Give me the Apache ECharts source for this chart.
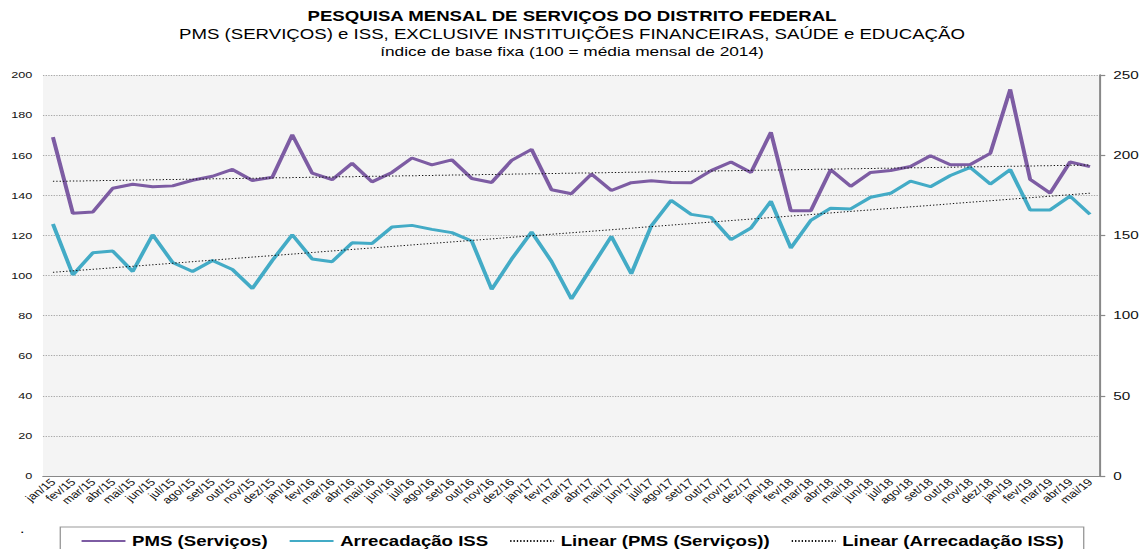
<!DOCTYPE html>
<html><head><meta charset="utf-8">
<script src="https://cdn.jsdelivr.net/npm/echarts@6/dist/echarts.min.js"></script>
<style>
html,body{margin:0;padding:0;background:#fff;overflow:hidden;width:1144px;height:549px}
#wrap{width:1144px;height:549px;overflow:hidden;position:relative}
#c{width:860px;height:549px;transform:scaleX(1.33023);transform-origin:0 0;}
</style></head><body><div id="wrap"><div id="c"></div></div>
<script>
// ---- data ----
const months = ['jan','fev','mar','abr','mai','jun','jul','ago','set','out','nov','dez'];
const years = ['15','16','17','18','19'];
const categories = [];
years.forEach(y => months.forEach(m => categories.push(m + '/' + y)));
categories.length = 53; // jan/15 .. mai/19

const pmsValues = [169, 131, 131.7, 143.5, 145.5, 144.3, 144.7, 147.5, 149.5, 152.9, 147.4, 149,
  170.2, 151, 147.8, 156, 146.7, 151.4, 158.6, 155.2, 157.7, 148.4, 146.4, 157.4,
  162.9, 142.8, 140.8, 150.6, 142.4, 146.3, 147.3, 146.4, 146.3, 152.3, 156.6, 151.4,
  171.4, 132.3, 132.3, 152.8, 144.5, 151.4, 152.4, 154.4, 159.7, 155.2, 155.4, 160.9,
  192.8, 147.9, 141.1, 156.6, 154.3];
const issValues = [125.7, 100.3, 111.3, 112.2, 102, 120.3, 106.5, 102, 107.5, 103, 93.5, 107.5,
  120.3, 108.2, 106.9, 116.3, 115.9, 124.2, 125, 123, 121.4, 117.2, 93.1, 108.2,
  121.7, 107, 88.3, 104, 119.5, 100.9, 124.7, 137.5, 130.5, 129, 117.9, 123.7,
  137, 113.7, 127.5, 133.6, 133.2, 139, 141, 147.1, 144.3, 149.9, 153.9, 145.6,
  152.8, 132.7, 132.7, 139.6, 130.5];

const seriesNames = ['PMS (Serviços)', 'Arrecadação ISS', 'Linear (PMS (Serviços))', 'Linear (Arrecadação ISS)'];
const titleLines = ['PESQUISA MENSAL DE SERVIÇOS DO DISTRITO FEDERAL',
  'PMS (SERVIÇOS) e ISS, EXCLUSIVE INSTITUIÇÕES FINANCEIRAS, SAÚDE e EDUCAÇÃO',
  'índice de base fixa (100 = média mensal de 2014)'];

// least-squares linear trend (as the spreadsheet's "Linear" trendline)
function linearTrend(arr) {
  const n = arr.length;
  let sx = 0, sy = 0, sxx = 0, sxy = 0;
  arr.forEach((v, i) => { sx += i; sy += v; sxx += i * i; sxy += i * v; });
  const b = (n * sxy - sx * sy) / (n * sxx - sx * sx);
  const a = (sy - b * sx) / n;
  return arr.map((_, i) => +(a + b * i).toFixed(3));
}

const FONT = '"Liberation Sans", Arial, sans-serif';
const chart = echarts.init(document.getElementById('c'), null, {renderer: 'svg'});
chart.setOption({
  animation: false,
  backgroundColor: '#ffffff',
  title: [
    {text: titleLines[0], left: 'center', top: 9, padding: 0,
     textStyle: {fontSize: 14, fontWeight: 'bold', color: '#000', fontFamily: FONT}},
    {text: titleLines[1], left: 'center', top: 27, padding: 0,
     textStyle: {fontSize: 14, fontWeight: 'normal', color: '#000', fontFamily: FONT}},
    {text: titleLines[2], left: 'center', top: 45, padding: 0,
     textStyle: {fontSize: 13, fontWeight: 'normal', color: '#000', fontFamily: FONT}}
  ],
  graphic: [{type: 'text', left: 15, top: 523, style: {text: '.', fontSize: 12, fill: '#000', fontFamily: FONT}}],
  legend: {
    data: seriesNames,
    left: 'center', top: 527,
    padding: [7, 15],
    borderColor: '#999', borderWidth: 1,
    itemWidth: 33, itemHeight: 14, itemGap: 15.5,
    itemStyle: {opacity: 0, borderWidth: 0},
    textStyle: {fontSize: 14, fontWeight: 'bold', color: '#000', fontFamily: FONT}
  },
  grid: {left: 32.3, right: 33.1, top: 75, bottom: 73, show: true,
         backgroundColor: '#f4f4f4', borderWidth: 0, containLabel: false},
  xAxis: {
    type: 'category', data: categories, boundaryGap: true,
    axisLine: {show: true, lineStyle: {color: '#888', width: 1.2}},
    axisTick: {show: false},
    axisLabel: {interval: 0, rotate: 45, fontSize: 10, margin: 4, color: '#111', fontFamily: FONT}
  },
  yAxis: [
    {type: 'value', min: 0, max: 200, interval: 20, position: 'left',
     axisLine: {show: false}, axisTick: {show: false},
     axisLabel: {fontSize: 9.5, margin: 8, color: '#111', fontFamily: FONT},
     splitLine: {show: true, lineStyle: {color: '#a8a8a8', type: [1, 1], width: 1}}},
    {type: 'value', min: 0, max: 250, interval: 50, position: 'right',
     axisLine: {show: true, lineStyle: {color: '#888', width: 1.5}},
     axisTick: {show: true, length: 4, lineStyle: {color: '#888', width: 1.2}},
     axisLabel: {fontSize: 11.5, margin: 10, color: '#111', fontFamily: FONT},
     splitLine: {show: false}}
  ],
  series: [
    {name: seriesNames[0], type: 'line', data: pmsValues, yAxisIndex: 0, symbol: 'none',
     lineStyle: {color: '#7d5ca3', width: 3}, itemStyle: {color: '#7d5ca3'}, z: 3},
    {name: seriesNames[1], type: 'line', data: issValues, yAxisIndex: 0, symbol: 'none',
     lineStyle: {color: '#43abc6', width: 3}, itemStyle: {color: '#43abc6'}, z: 3},
    {name: seriesNames[2], type: 'line', data: linearTrend(pmsValues), yAxisIndex: 0, symbol: 'none',
     lineStyle: {color: '#111', width: 1, type: [1, 1.5]}, itemStyle: {color: '#111'}, z: 4},
    {name: seriesNames[3], type: 'line', data: linearTrend(issValues), yAxisIndex: 0, symbol: 'none',
     lineStyle: {color: '#111', width: 1, type: [1, 1.5]}, itemStyle: {color: '#111'}, z: 4}
  ]
});
</script></body></html>
